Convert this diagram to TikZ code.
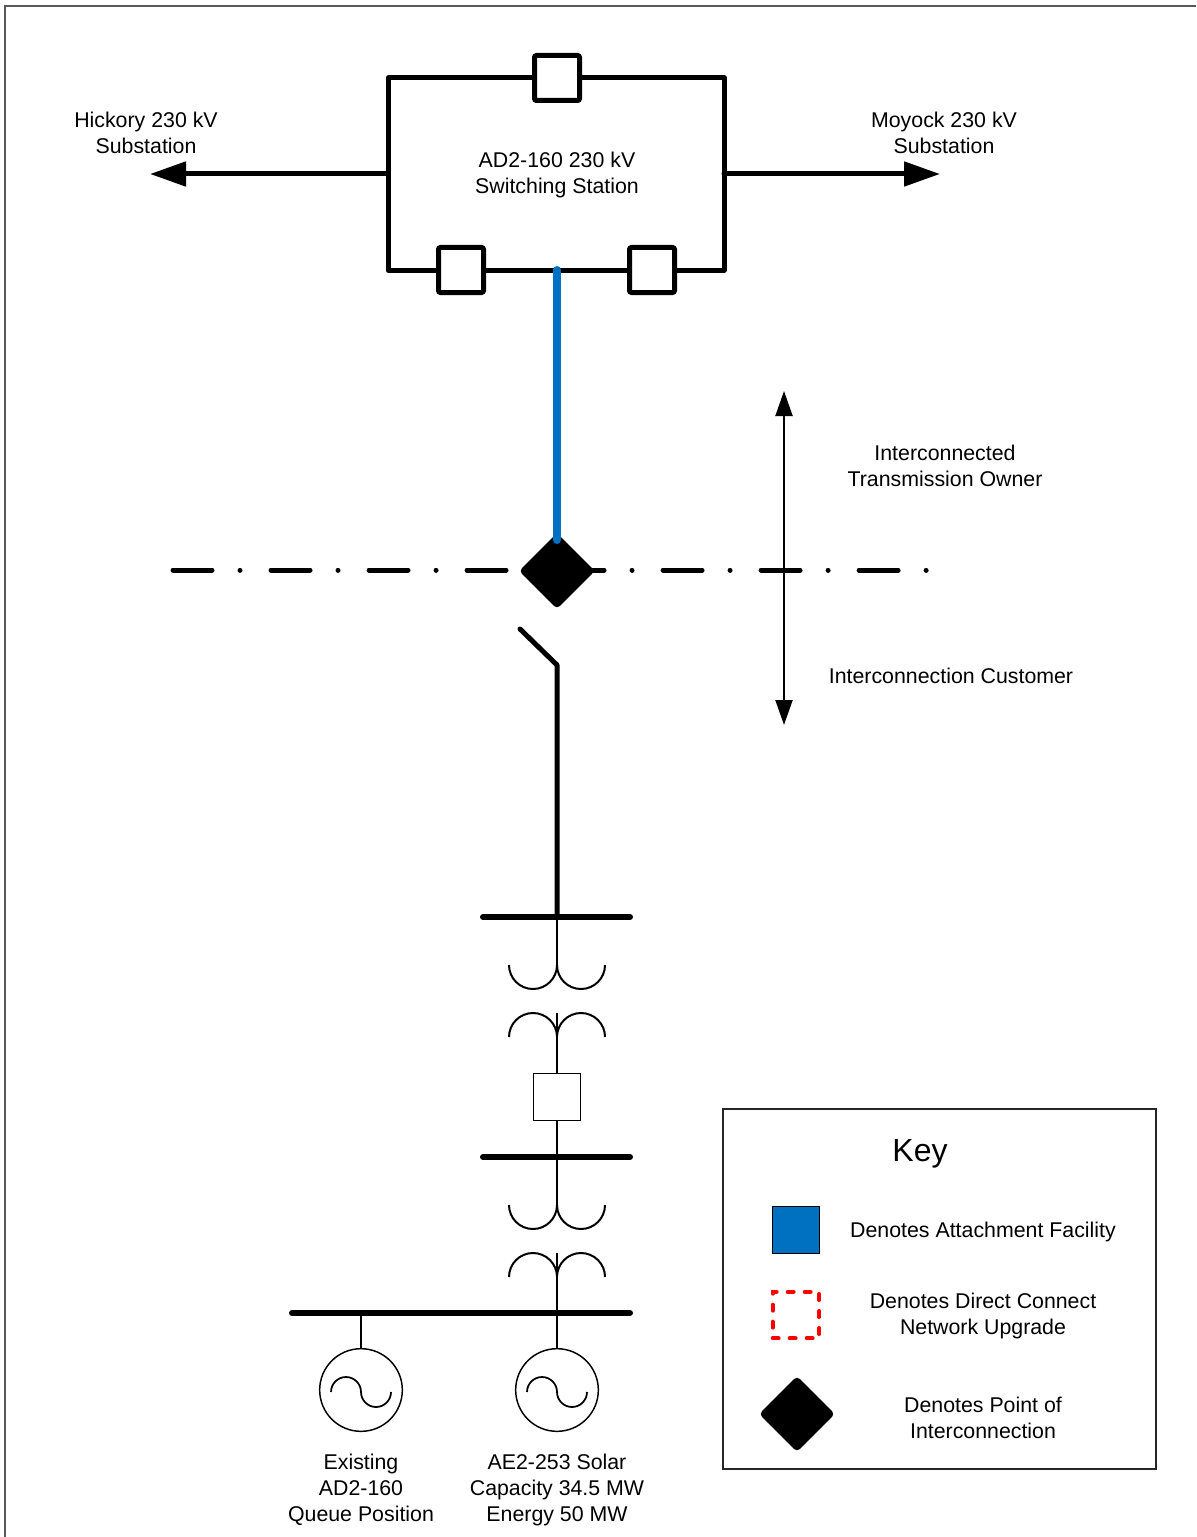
\documentclass[tikz,border=0pt]{standalone}
\usepackage{fontspec}
\setmainfont{Liberation Sans}
\usetikzlibrary{shapes.geometric,arrows.meta}

\definecolor{afblue}{RGB}{0,112,192}

\tikzset{
  lbl/.style={align=center, font=\fontsize{16}{19.5}\selectfont, inner sep=0pt},
  heavy/.style={line width=3.75pt, line cap=round, line join=round},
  wire/.style={line width=1.5pt},
  busbar/.style={line width=4.5pt, line cap=round},
  brk/.style={draw, fill=white, line width=3.75pt, rounded corners=1.5pt, minimum size=33.75pt, inner sep=0pt},
  cbox/.style={draw, fill=white, line width=1.2pt, minimum size=35.5pt, inner sep=0pt},
  poi/.style={diamond, fill=black, minimum size=57pt, inner sep=0pt, rounded corners=3pt},
  gen/.style={circle, draw, line width=1.1pt, minimum size=62pt, inner sep=0pt}
}

\begin{document}
\begin{tikzpicture}[x=0.75pt, y=-0.75pt]
\useasboundingbox (0,0) rectangle (1196,1537);
\draw[line width=1.1pt, black!65] (5,1537) -- (5,6) -- (1196,6);

% switching station ring
\coordinate (bt) at (557,270);
\draw[heavy] (557,78) -- (388,78) -- (388,270) -- (724,270) -- (724,78) -- cycle;
\node (cbt) at (557,78) [brk] {};
\node (cbl) at (461,270) [brk] {};
\node (cbr) at (652,270) [brk] {};
\node (st) at (557,175) [lbl] {AD2-160 230 kV\\Switching Station};

% lines out
\coordinate (hk) at (150,174);
\coordinate (my) at (940,174);
\draw[heavy, -{Triangle[length=27pt,width=18pt]}] (388,174) -- (hk);
\draw[heavy, -{Triangle[length=27pt,width=18pt]}] (724,174) -- (my);
\node (hkl) at (146,133) [lbl] {Hickory 230 kV\\Substation};
\node (myl) at (944,133) [lbl] {Moyock 230 kV\\Substation};

% ownership boundary
\draw[line width=3.75pt, line cap=round, dash pattern=on 29.25pt off 21pt on 0.01pt off 23.25pt] (173,570) -- (930,570);
\node (poi) at (557,571) [poi] {};
\draw[line width=6pt, afblue, line cap=round] (bt) -- (557,540);

\coordinate (ua) at (784,391);
\coordinate (la) at (784,725);
\draw[line width=1.5pt, {Triangle[length=18.75pt,width=12.75pt]}-{Triangle[length=18.75pt,width=12.75pt]}] (ua) -- (la);
\node (ito) at (945,466) [lbl] {Interconnected\\Transmission Owner};
\node (icu) at (951,676) [lbl] {Interconnection Customer};

% customer side
\coordinate (b1) at (557,917);
\draw[heavy] (520,629) -- (557,665) -- (b1);
\draw[busbar] (483,917) -- (630,917);
\draw[wire] (b1) -- (557,965);
\draw[wire] (509,965) arc (180:0:24) arc (180:0:24);
\draw[wire] (509,1037) arc (180:360:24) arc (180:360:24);
\node (cbx) at (557,1097) [cbox] {};
\draw[wire] (557,1013) -- (cbx.north);
\draw[wire] (cbx.south) -- (557,1205);
\draw[busbar] (483,1157) -- (630,1157);
\draw[wire] (509,1205) arc (180:0:24) arc (180:0:24);
\draw[wire] (509,1277) arc (180:360:24) arc (180:360:24);
\draw[busbar] (292,1313) -- (630,1313);

\node (ga) at (361,1390) [gen] {};
\node (gb) at (557,1390) [gen] {};
\draw[wire] (361,1313) -- (ga.north);
\draw[wire] (557,1253) -- (gb.north);
\draw[line width=1.3pt, shift={(ga.center)}] (-30,2) arc (180:360:15) arc (180:0:15);
\draw[line width=1.3pt, shift={(gb.center)}] (-30,2) arc (180:360:15) arc (180:0:15);
\node (gal) at (361,1490) [lbl] {Existing\\AD2-160\\Queue Position};
\node (gbl) at (557,1490) [lbl] {AE2-253 Solar\\Capacity 34.5 MW\\Energy 50 MW};

% key
\draw[line width=1.5pt, black!85] (723,1109) rectangle (1156,1469);
\node (key) at (920,1154) [font=\fontsize{24}{28}\selectfont, inner sep=0pt] {Key};
\node (kaf) at (796,1230) [draw, fill=afblue, line width=1.1pt, minimum size=35.5pt, inner sep=0pt] {};
\node (kdc) at (796,1315) [draw=red, line width=3pt, line cap=round, dash pattern=on 4.5pt off 8.25pt, minimum size=35pt, inner sep=0pt] {};
\node (kpoi) at (797,1414) [poi] {};
\node (kafl) at (983,1232) [lbl] {Denotes Attachment Facility};
\node (kdcl) at (983,1316) [lbl] {Denotes Direct Connect\\Network Upgrade};
\node (kpol) at (983,1418) [lbl] {Denotes Point of\\Interconnection};
\end{tikzpicture}
\end{document}
